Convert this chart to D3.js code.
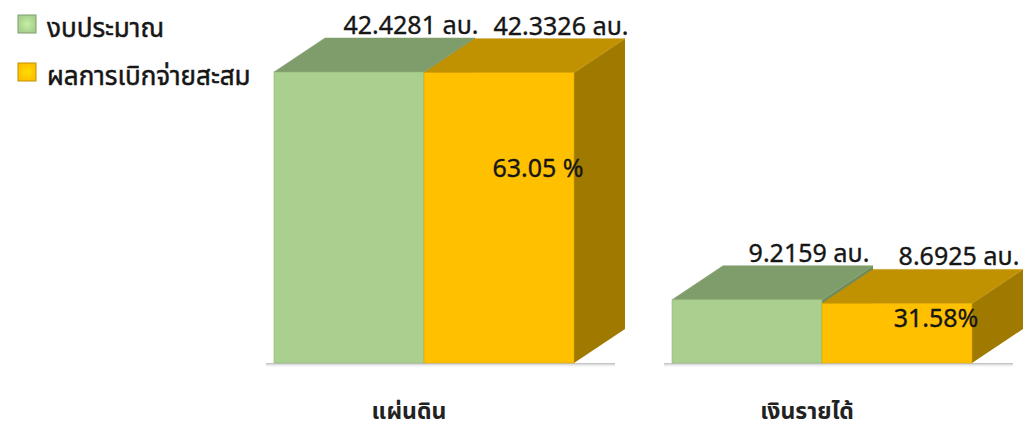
<!DOCTYPE html>
<html lang="th">
<head>
<meta charset="utf-8">
<script src="https://d3js.org/d3.v7.min.js"></script>
<style>
    body { margin: 0; background: #fff; }
    svg { display: block; font-family: Tahoma, "Noto Sans Thai", "Noto Sans", "DejaVu Sans", sans-serif; }
    .lbl { fill: #161616; stroke: #161616; stroke-width: 0.35px; font-size: 25px; }
    .cat { fill: #222; font-size: 23px; font-weight: bold; }
    .leg { fill: #161616; stroke: #161616; stroke-width: 0.5px; font-size: 26px; }
</style>
</head>
<body>
<svg width="1026" height="428"></svg>
<script>
    // data
    var categories = ["แผ่นดิน", "เงินรายได้"];
    var seriesNames = ["งบประมาณ", "ผลการเบิกจ่ายสะสม"];
    var budget = [42.4281, 9.2159];
    var spent = [42.3326, 8.6925];
    var valueLabels = [["42.4281 ลบ.", "42.3326 ลบ."], ["9.2159 ลบ.", "8.6925 ลบ."]];
    var percentLabels = ["63.05 %", "31.58%"];

    var colors = {
        "งบประมาณ": { front: "#a9d08e", top: "#7f9d6b", side: "#6f8c5c" },
        "ผลการเบิกจ่ายสะสม": { front: "#ffc000", top: "#c09100", side: "#a07900" }
    };

    var svg = d3.select("svg");
    var baseY = 363, topY = 72;
    var depthX = 51, depthY = 34;

    // scales
    var x = d3.scaleBand().domain(categories).range([274, 972]).paddingInner(98 / 398);
    var x1 = d3.scaleBand().domain(seriesNames).range([0, x.bandwidth()]);
    var y = d3.scaleLinear().domain([0, d3.max(budget.concat(spent))]).range([baseY, topY]);

    var rows = categories.map(function (c, i) {
        return { cat: c, i: i, vals: [budget[i], spent[i]] };
    });

    // floor shadow + legend gradients
    var defs = svg.append("defs");
    var sg = defs.append("linearGradient").attr("id", "shadow").attr("x1", 0).attr("x2", 0).attr("y1", 0).attr("y2", 1);
    sg.append("stop").attr("offset", 0).attr("stop-color", "#999").attr("stop-opacity", 0.7);
    sg.append("stop").attr("offset", 1).attr("stop-color", "#fff").attr("stop-opacity", 0);

    seriesNames.forEach(function (s, i) {
        var lg = defs.append("radialGradient").attr("id", "leg" + i);
        lg.append("stop").attr("offset", 0).attr("stop-color", d3.color(colors[s].front).brighter(0.4));
        lg.append("stop").attr("offset", 1).attr("stop-color", colors[s].front);
    });

    svg.selectAll(".shadow").data(rows).enter().append("rect")
        .attr("x", function (d) { return x(d.cat) - 8; })
        .attr("y", baseY)
        .attr("width", x.bandwidth() + depthX - 2)
        .attr("height", 5)
        .attr("fill", "url(#shadow)");

    // bars
    var groups = svg.selectAll(".grp").data(rows).enter().append("g").attr("class", "grp");

    groups.each(function (d) {
        var g = d3.select(this);
        seriesNames.forEach(function (s, j) {
            var v = d.vals[j];
            var x0 = x(d.cat) + x1(s), w = x1.bandwidth(), yt = y(v);
            var c = colors[s];
            // side
            g.append("path")
                .attr("d", "M" + (x0 + w) + "," + yt + "L" + (x0 + w + depthX) + "," + (yt - depthY) +
                    "L" + (x0 + w + depthX) + "," + (baseY - depthY) + "L" + (x0 + w) + "," + baseY + "Z")
                .attr("fill", c.side);
            // top
            g.append("path")
                .attr("d", "M" + x0 + "," + yt + "L" + (x0 + depthX) + "," + (yt - depthY) +
                    "L" + (x0 + w + depthX) + "," + (yt - depthY) + "L" + (x0 + w) + "," + yt + "Z")
                .attr("fill", c.top)
                .attr("stroke", c.top).attr("stroke-width", 0.5);
            // front
            g.append("rect")
                .attr("x", x0).attr("y", yt)
                .attr("width", w).attr("height", baseY - yt)
                .attr("fill", c.front)
                .attr("stroke", d3.color(c.front).darker(0.4)).attr("stroke-width", 0.6);
            // value label
            g.append("text").attr("class", "lbl")
                .attr("x", x0 + w / 2 + 62)
                .attr("y", yt - depthY - 4)
                .attr("text-anchor", "middle")
                .text(valueLabels[d.i][j]);
        });
    });

    // percent labels on the gold bars
    var pctY = [168, 318];
    svg.selectAll(".pct").data(rows).enter().append("text").attr("class", "lbl")
        .attr("x", function (d) { return x(d.cat) + x1(seriesNames[1]) + x1.bandwidth() / 2 + 39; })
        .attr("y", function (d) { return pctY[d.i]; })
        .attr("dy", "0.35em")
        .attr("text-anchor", "middle")
        .text(function (d) { return percentLabels[d.i]; });

    // category labels
    svg.selectAll(".cat").data(rows).enter().append("text").attr("class", "cat")
        .attr("x", function (d) { return x(d.cat) + x.bandwidth() / 2 - 15; })
        .attr("y", 419)
        .attr("text-anchor", "middle")
        .text(function (d) { return d.cat; });

    // legend
    var leg = svg.selectAll(".legi").data(seriesNames).enter().append("g")
        .attr("transform", function (d, i) { return "translate(18," + (15 + i * 48) + ")"; });
    leg.append("rect").attr("width", 18).attr("height", 18)
        .attr("fill", function (d, i) { return "url(#leg" + i + ")"; })
        .attr("stroke", function (d) { return colors[d].top; }).attr("stroke-width", 1);
    leg.append("text").attr("class", "leg")
        .attr("x", 29).attr("y", 13).attr("dy", "0.35em")
        .text(function (d) { return d; });
</script>
</body>
</html>
